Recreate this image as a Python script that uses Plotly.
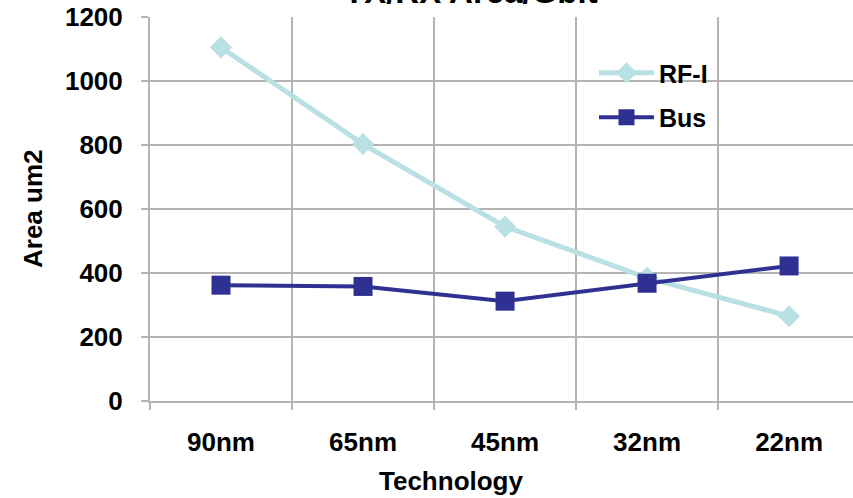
import plotly.graph_objects as go

categories = ["90nm", "65nm", "45nm", "32nm", "22nm"]
rfi_values = [1105, 803, 545, 385, 265]
bus_values = [362, 358, 312, 368, 422]
y_ticks = [0, 200, 400, 600, 800, 1000, 1200]

FONT = "Liberation Sans, Arial, sans-serif"
GRID = "#b4b4b4"

W, H = 853, 498
L, T, R, B = 150, 17, 0, 97
pw, ph = W - L - R, H - T - B

def px(p):
    return (p - L) / pw

def py(q):
    return (H - B - q) / ph

fig = go.Figure()
fig.add_trace(go.Scatter(
    x=categories, y=rfi_values, name="RF-I", mode="lines+markers",
    legendgroup="a",
    line=dict(color="#b9e0e2", width=5),
    marker=dict(symbol="diamond", size=17, color="#b9e0e2"),
))
fig.add_trace(go.Scatter(
    x=categories, y=bus_values, name="Bus", mode="lines+markers",
    legendgroup="b",
    line=dict(color="#2e3192", width=4),
    marker=dict(symbol="square", size=19, color="#2e3192"),
))

fig.update_layout(
    width=W, height=H,
    margin=dict(l=L, t=T, r=R, b=B, pad=0),
    paper_bgcolor="white", plot_bgcolor="white",
    font=dict(family=FONT, size=26, color="black", weight="bold"),
    showlegend=True,
    legend=dict(
        x=px(594), y=py(50), xanchor="left", yanchor="top",
        bgcolor="rgba(0,0,0,0)", borderwidth=0,
        font=dict(size=25, family=FONT, weight="bold"),
        itemwidth=55, traceorder="grouped", tracegroupgap=9,
    ),
    xaxis=dict(
        type="category", range=[-0.5, 4.45],
        tickson="boundaries", showgrid=True, gridcolor=GRID, gridwidth=2,
        ticks="outside", ticklen=7, tickwidth=2, tickcolor=GRID,
        showline=True, linecolor=GRID, linewidth=2,
        tickfont=dict(size=26, family=FONT, weight="bold"),
        ticklabelstandoff=17, zeroline=False,
    ),
    yaxis=dict(
        range=[0, 1200], tickvals=y_ticks,
        showgrid=True, gridcolor=GRID, gridwidth=2,
        ticks="outside", ticklen=7, tickwidth=2, tickcolor=GRID,
        showline=True, linecolor=GRID, linewidth=2,
        tickfont=dict(size=26, family=FONT, weight="bold"),
        ticklabelstandoff=13, zeroline=False,
    ),
    annotations=[
        dict(text="TX/RX Area/Gbit", xref="paper", yref="paper",
             x=px(471), y=py(12), xanchor="center", yanchor="bottom",
             showarrow=False, font=dict(size=33, family=FONT, weight="bold")),
        dict(text="Technology", xref="paper", yref="paper",
             x=px(451), y=py(481), xanchor="center", yanchor="middle",
             showarrow=False, font=dict(size=26, family=FONT, weight="bold")),
        dict(text="Area um2", xref="paper", yref="paper",
             x=px(33), y=py(209), xanchor="center", yanchor="middle",
             textangle=-90, showarrow=False,
             font=dict(size=26, family=FONT, weight="bold")),
    ],
)

fig.write_html("out.html")
